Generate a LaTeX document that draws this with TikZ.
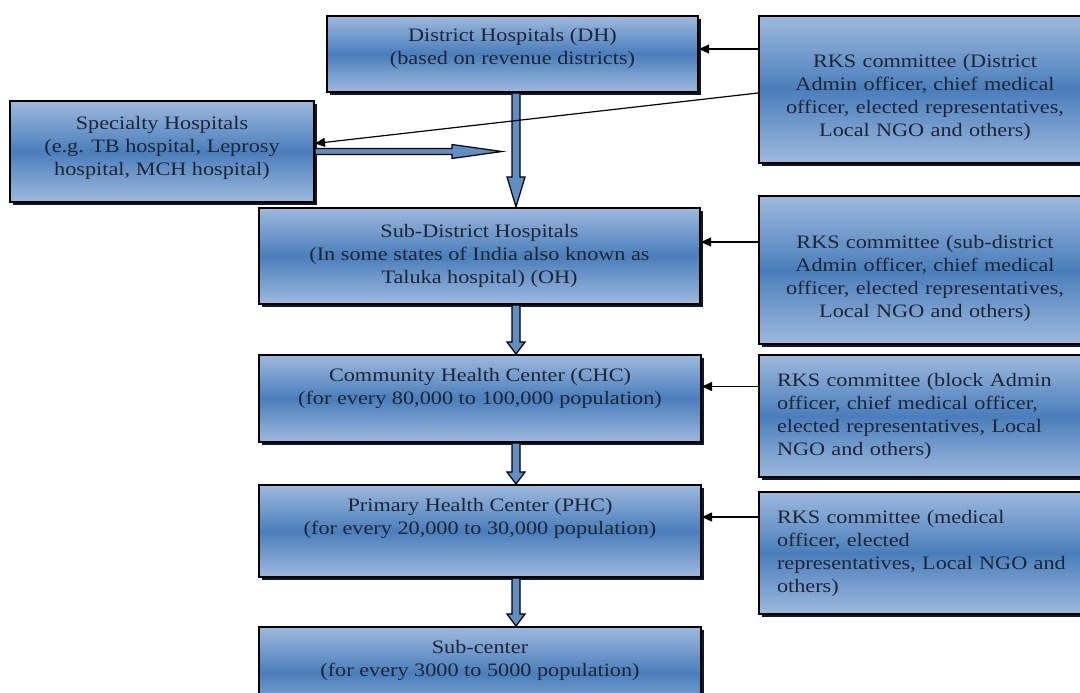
\documentclass[tikz,border=0pt]{standalone}
\usepackage{fontspec}
\setmainfont{Liberation Serif}[FakeStretch=1.17]
\usetikzlibrary{calc,shadows,arrows.meta}

\definecolor{boxlight}{HTML}{9DB9DE}
\definecolor{boxmid}{HTML}{4A7EBB}
\definecolor{boxtext}{HTML}{1E2533}

% hollow block arrow: half shaft, half head, head length, from, to
\newcommand\fatarrow[5]{%
	\filldraw[fatarrow] let \p1=($(#5)-(#4)$), \n1={atan2(\y1,\x1)}, \n2={veclen(\x1,\y1)} in
		[shift={(#4)}, rotate=\n1]
		(0pt,-#1) -- ({\n2*1pt-#3},-#1) -- ({\n2*1pt-#3},-#2) -- ({\n2*1pt},0pt)
		-- ({\n2*1pt-#3},#2) -- ({\n2*1pt-#3},#1) -- (0pt,#1) -- cycle;}

\begin{document}
\begin{tikzpicture}[line cap=round,line join=round,x=0.5pt,y=-0.5pt,
	hbox/.style={draw=black, line width=1pt, line join=miter, top color=boxlight, bottom color=boxlight, middle color=boxmid,
		drop shadow={shadow xshift=1.5pt, shadow yshift=-1.5pt, fill=black!80!boxmid, opacity=1},
		font=\fontsize{9.5pt}{11.5pt}\selectfont, text=boxtext, align=center, inner sep=0pt},
	rks/.style={hbox, minimum width=166pt, text width=156pt, inner xsep=5pt, text height=15pt},
	rksleft/.style={hbox, minimum width=166pt, text width=148pt, inner xsep=9pt, align=left},
	link/.style={-{Triangle[length=5pt,width=4.5pt]}, line width=0.6pt},
	fatarrow/.style={fill=boxmid!75!boxlight, draw=black, line width=0.6pt, line join=miter}]
	\useasboundingbox (0,0) rectangle (1080,692);
	\clip (0,0) rectangle (1080,692);

	% Hospitals
	\node[hbox, minimum width=185.5pt, minimum height=38pt, text depth=7.6pt] (dh) at (512.5,54) {District Hospitals (DH)\\(based on revenue districts)};
	\node[hbox, minimum width=152pt, minimum height=50.5pt, text depth=6pt] (spec) at (162,151.5) {Specialty Hospitals\\(e.g. TB hospital, Leprosy\\hospital, MCH hospital)};
	\node[hbox, minimum width=220.5pt, minimum height=48pt] (sdh) at (479.5,256) {Sub-District Hospitals\\(In some states of India also known as\\Taluka hospital) (OH)};
	\node[hbox, minimum width=221pt, minimum height=43.5pt, text depth=12pt] (chc) at (480,398.5) {Community Health Center (CHC)\\(for every 80,000 to 100,000 population)};
	\node[hbox, minimum width=221pt, minimum height=46pt, text depth=15pt] (phc) at (480,531) {Primary Health Center (PHC)\\(for every 20,000 to 30,000 population)};
	\node[hbox, minimum width=221pt, minimum height=46pt, text depth=14.6pt] (sub) at (480,673) {Sub-center\\(for every 3000 to 5000 population)};

	% RKS committees
	\node[rks, minimum height=73.5pt] (rksdh) at (925,89.5) {RKS committee (District\\Admin officer, chief medical\\officer, elected representatives,\\Local NGO and others)};
	\node[rks, minimum height=74pt] (rkssdh) at (925,270) {RKS committee (sub-district\\Admin officer, chief medical\\officer, elected representatives,\\Local NGO and others)};
	\node[rksleft, minimum height=61pt] (rkschc) at (925,416) {RKS committee (block Admin\\officer, chief medical officer,\\elected representatives, Local\\NGO and others)};
	\node[rksleft, minimum height=61pt] (rksphc) at (925,553) {RKS committee (medical\\officer, elected\\representatives, Local NGO and\\others)};

	% block arrows
	\coordinate (trunk) at (516,0);
	\coordinate (spectip) at (502,151.5);
	\fatarrow{2pt}{4.5pt}{15pt}{trunk |- dh.south}{trunk |- sdh.north}
	\fatarrow{2pt}{4.5pt}{6pt}{trunk |- sdh.south}{trunk |- chc.north}
	\fatarrow{2pt}{4.5pt}{6pt}{trunk |- chc.south}{trunk |- phc.north}
	\fatarrow{2pt}{4.5pt}{6pt}{trunk |- phc.south}{trunk |- sub.north}
	\fatarrow{1.5pt}{3.5pt}{25pt}{spec.east}{spectip}

	%% committee links
	\draw[link] ([yshift=2.5pt]dh.east -| rksdh.west) -- ([yshift=2.5pt]dh.east);
	\draw[link] ([yshift=-1.75pt]rksdh.west) -- ([yshift=4pt]spec.east);
	\draw[link] ([yshift=7pt]sdh.east -| rkssdh.west) -- ([yshift=7pt]sdh.east);
	\draw[link] ([yshift=6pt]chc.east -| rkschc.west) -- ([yshift=6pt]chc.east);
	\draw[link] ([yshift=7pt]phc.east -| rksphc.west) -- ([yshift=7pt]phc.east);
\end{tikzpicture}
\end{document}
